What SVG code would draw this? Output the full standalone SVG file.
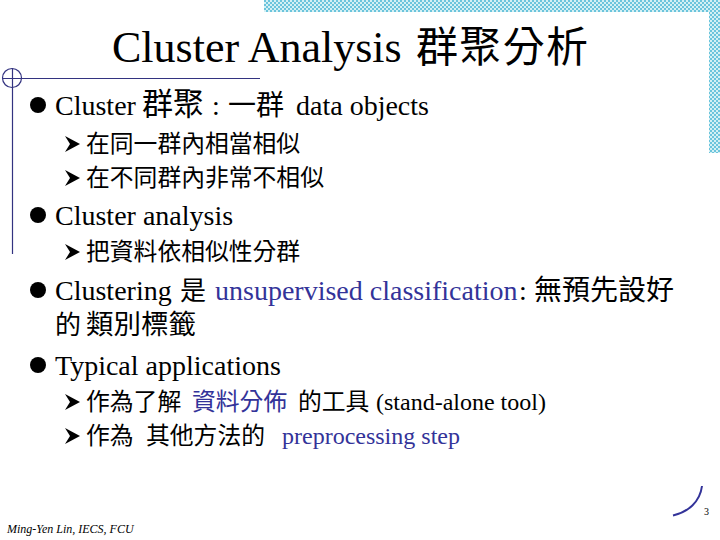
<svg xmlns="http://www.w3.org/2000/svg" width="720" height="540" viewBox="0 0 720 540">
<style>
.e{font-family:"Liberation Serif","Times New Roman",serif;fill:#000}
.c{font-family:"Noto Sans CJK TC","Noto Sans CJK SC",sans-serif;fill:#000}
.b{fill:#333399}
.l{stroke:#333380;stroke-width:1.2;fill:none}
</style>
<defs>
<pattern id="dither" width="4" height="4" patternUnits="userSpaceOnUse">
<rect width="4" height="4" fill="#d4f0f4"/>
<rect width="2" height="2" fill="#6cc4dc"/>
<rect x="2" y="2" width="2" height="2" fill="#6cc4dc"/>
</pattern>
<circle id="dot" r="8" fill="#000"/>
<polygon id="arr" points="0,-8 15,0 0,8 5,0" fill="#000"/>
</defs>
<rect width="720" height="540" fill="#fff"/>
<g id="frame">
<path d="M264 0H720V153H709V12H264Z" fill="url(#dither)"/>
<circle class="l" cx="12" cy="78" r="9.5"/>
<path class="l" d="M2 78.5H260M12.5 68V254"/>
<path d="M673 515.5C688 512 700 502 702 486" stroke="#333399" stroke-width="2" fill="none"/>
</g>
<g id="title">
<text class="e" x="112" y="62" font-size="44">Cluster Analysis</text>
<text class="c" x="416" y="62" font-size="42" textLength="172">群聚分析</text>
</g>
<g id="line1">
<use href="#dot" x="38" y="105"/>
<text class="e" x="55" y="115" font-size="28">Cluster</text>
<text class="c" x="142" y="115" font-size="31">群聚</text>
<text class="e" x="212" y="115" font-size="28">:</text>
<text class="c" x="228" y="115" font-size="28">一群</text>
<text class="e" x="296" y="115" font-size="28">data objects</text>
</g>
<g id="line1a">
<use href="#arr" x="65" y="144"/>
<text class="c" x="86" y="152" font-size="23.8">在同一群內相當相似</text>
</g>
<g id="line1b">
<use href="#arr" x="65" y="178"/>
<text class="c" x="86" y="186" font-size="23.8">在不同群內非常不相似</text>
</g>
<g id="line2">
<use href="#dot" x="38" y="215"/>
<text class="e" x="55" y="225" font-size="28">Cluster analysis</text>
</g>
<g id="line2a">
<use href="#arr" x="65" y="252"/>
<text class="c" x="86" y="260" font-size="23.8">把資料依相似性分群</text>
</g>
<g id="line3">
<use href="#dot" x="38" y="290"/>
<text class="e" x="55" y="300" font-size="28">Clustering</text>
<text class="c" x="180" y="300" font-size="26">是</text>
<text class="e b" x="215" y="300" font-size="28">unsupervised classification</text>
<text class="e" x="519" y="300" font-size="28">:</text>
<text class="c" x="534" y="300" font-size="28">無預先設好</text>
<text class="c" x="55" y="334" font-size="26">的</text>
<text class="c" x="86" y="334" font-size="27.5">類別標籤</text>
</g>
<g id="line4">
<use href="#dot" x="38" y="365"/>
<text class="e" x="55" y="375" font-size="28">Typical applications</text>
</g>
<g id="line4a">
<use href="#arr" x="65" y="402"/>
<text class="c" x="86" y="410" font-size="23.8">作為了解</text>
<text class="c b" x="192" y="410" font-size="23.8">資料分佈</text>
<text class="c" x="298" y="410" font-size="23.8">的工具</text>
<text class="e" x="376" y="410" font-size="24">(stand-alone tool)</text>
</g>
<g id="line4b">
<use href="#arr" x="65" y="436"/>
<text class="c" x="86" y="444" font-size="23.8">作為</text>
<text class="c" x="146" y="444" font-size="23.8">其他方法的</text>
<text class="e b" x="282" y="444" font-size="24">preprocessing step</text>
</g>
<g id="footer">
<text class="e" x="7" y="533" font-size="12" font-style="italic">Ming-Yen Lin, IECS, FCU</text>
<text class="e" x="704" y="515" font-size="10">3</text>
</g>
</svg>
